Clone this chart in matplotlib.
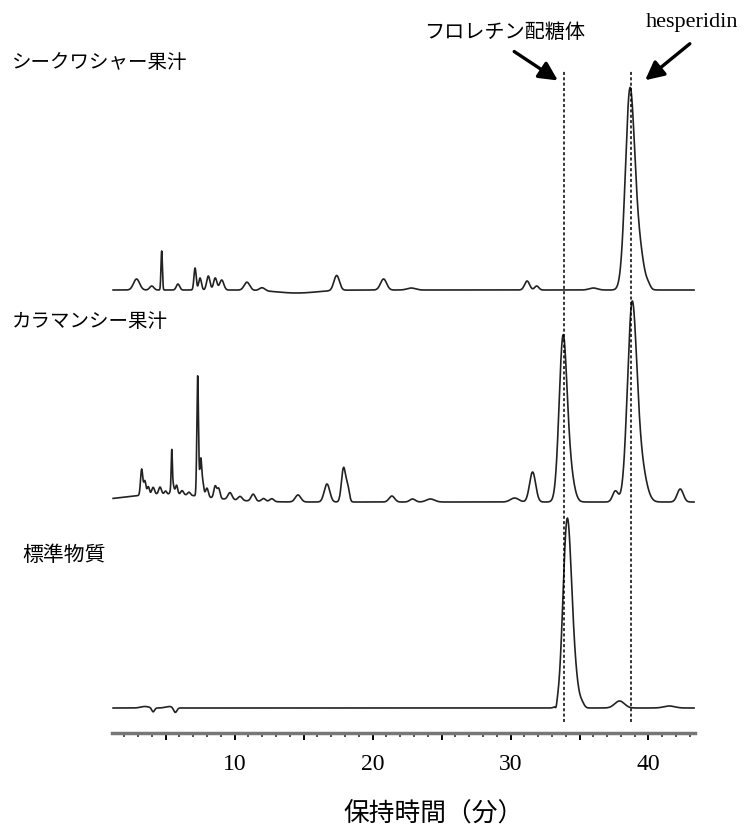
import numpy as np
import matplotlib.pyplot as plt

jp = ['Noto Sans CJK JP', 'DejaVu Sans']

# retention time (min), peak height, peak width (sigma)
shiikuwasa_rt = [2.9, 4.0, 4.72, 5.9, 7.14, 7.5, 8.1, 8.6, 9.07, 10.9, 12.0, 14.5,
                 17.4, 20.8, 22.8, 31.2, 31.9, 36.0, 38.65, 39.3, 40.0]
shiikuwasa_h = [11, 4, 39, 6, 22, 12, 14, 12, 10, 8, 3, -3,
                15, 11, 2, 9, 4, 2, 195, 40, 3]
shiikuwasa_w = [0.22, 0.15, 0.05, 0.12, 0.08, 0.1, 0.12, 0.12, 0.15, 0.2, 0.2, 1.5,
                0.2, 0.22, 0.3, 0.18, 0.15, 0.3, 0.33, 0.35, 0.15]

calamansi_rt = [5.0, 3.27, 3.5, 3.75, 4.1, 4.6, 5.0, 5.45, 5.5, 5.8, 6.2, 6.7, 7.33, 7.55,
                7.7, 8.0, 8.6, 8.85, 9.67, 10.4, 11.35, 12.1, 12.7, 14.6, 16.7, 17.9,
                18.2, 21.4, 22.9, 24.2, 30.3, 31.6, 33.8, 34.3, 37.6, 38.8, 39.4, 42.3]
calamansi_h = [8, 26, 14, 8, 7, 7, 3, 34, 12, 9, 4, 3, 120, 36,
               13, 9, 12, 10, 7, 4, 7, 3, 3, 7, 18, 34,
               14, 6, 3, 3, 4, 30, 160, 28, 11, 188, 38, 13]
calamansi_w = [3.0, 0.08, 0.08, 0.08, 0.1, 0.1, 0.08, 0.04, 0.1, 0.08, 0.1, 0.1, 0.06, 0.07,
               0.08, 0.1, 0.1, 0.1, 0.15, 0.15, 0.15, 0.15, 0.15, 0.2, 0.2, 0.15,
               0.12, 0.2, 0.2, 0.3, 0.3, 0.22, 0.28, 0.3, 0.2, 0.33, 0.4, 0.22]

standard_rt = [3.5, 4.1, 5.3, 5.7, 33.3, 34.1, 34.6, 35.2, 37.9, 41.5]
standard_h = [1.5, -4, 1.5, -5, -4, 182, 30, 3, 7, 2]
standard_w = [0.3, 0.1, 0.3, 0.12, 0.06, 0.3, 0.3, 0.15, 0.35, 0.4]

marker_rt = [33.9, 38.75]
labels = ['シークワシャー果汁', 'カラマンシー果汁', '標準物質']

t = np.linspace(1.2, 43.3, 5000)


def trace(rt, h, w, base):
    y = np.full_like(t, base)
    for r, a, s in zip(rt, h, w):
        y += a * np.exp(-0.5 * ((t - r) / s) ** 2)
    return y


fig = plt.figure(figsize=(7.52, 8.39), dpi=100)
ax = fig.add_axes([112 / 752, 106 / 839, 583 / 752, 733 / 839])
ax.set_xlim(1.12, 43.37)
ax.set_ylim(0, 733)

ax.plot(t, trace(shiikuwasa_rt, shiikuwasa_h, shiikuwasa_w, 443), color='#222222', lw=1.2)
ax.plot(t, trace(calamansi_rt, calamansi_h, calamansi_w, 231), color='#222222', lw=1.2)
ax.plot(t, trace(standard_rt, standard_h, standard_w, 25), color='#222222', lw=1.2)

for m in marker_rt:
    ax.plot([m, m], [11, 663], color='k', lw=1.1, dashes=(2, 1.5))

for s in ['top', 'left', 'right']:
    ax.spines[s].set_visible(False)
ax.spines['bottom'].set_color('#777777')
ax.spines['bottom'].set_linewidth(2.5)
ax.set_yticks([])
ax.set_xticks(range(5, 44, 5))
ax.set_xticklabels(['', '10', '', '20', '', '30', '', '40'])
ax.set_xticks([i for i in range(2, 44) if i % 5], minor=True)
ax.tick_params(axis='x', which='major', length=5, width=1.4, pad=10,
               labelsize=17, colors='k')
ax.tick_params(axis='x', which='minor', length=3, width=1.1, colors='#222222')
for lab in ax.get_xticklabels():
    lab.set_family('Liberation Serif')

# arrows to the marker lines
ax.annotate('', xy=(33.6, 651), xytext=(30.1, 683),
            arrowprops=dict(arrowstyle='-|>', lw=2.4, color='k', mutation_scale=28))
ax.annotate('', xy=(39.6, 651), xytext=(43.15, 691), annotation_clip=False,
            arrowprops=dict(arrowstyle='-|>', lw=2.4, color='k', mutation_scale=28))

fig.text(505 / 752, 1 - 32 / 839, 'フロレチン配糖体', family=jp, fontsize=14.5,
         ha='center', va='center')
fig.text(692 / 752, 1 - 22 / 839, 'hesperidin', family='Liberation Serif', fontsize=16,
         ha='center', va='center')

fig.text(12 / 752, 1 - 62 / 839, labels[0], family=jp, fontsize=14, va='center')
fig.text(12 / 752, 1 - 322 / 839, labels[1], family=jp, fontsize=14, va='center')
fig.text(22 / 752, 1 - 555 / 839, labels[2], family=jp, fontsize=15, va='center')

fig.text(434 / 752, 1 - 815 / 839, '保持時間（分）', family=jp, fontsize=18.5,
         ha='center', va='center')

fig.savefig('out.png', dpi=100)
